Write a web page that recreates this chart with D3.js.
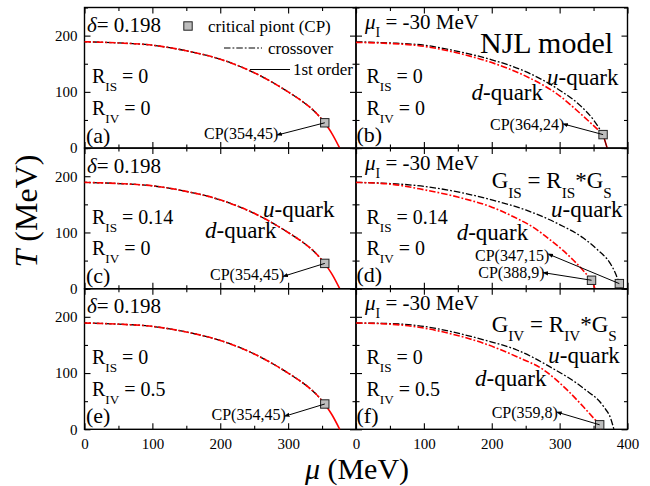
<!DOCTYPE html>
<html>
<head>
<meta charset="utf-8">
<script src="https://cdn.jsdelivr.net/npm/d3@7"></script>
<style>
  html, body { margin: 0; padding: 0; background: #fff; }
  svg { display: block; font-family: "Liberation Serif", "Times New Roman", serif; }
  text { white-space: pre; fill: #000; }
</style>
</head>
<body>
<svg id="chart" width="650" height="486"></svg>
<script>
// ---- axis ticks ----
const muMajor = [0, 100, 200, 300, 400];
const muMinor = [50, 150, 250, 350];
const tMajor = [0, 100, 200];
const tMinor = [50, 150, 250];
const muLabelsLeft = [0, 100, 200, 300];
const muLabelsRight = [0, 100, 200, 300, 400];

// ---- phase boundaries (mu, T in MeV) ----
// symmetric case, u and d lines coincide (panels a, c, e)
const symCrossMu = [0, 50, 100, 150, 200, 250, 300, 320, 340, 354];
const symCrossT  = [189, 187, 183, 173, 158, 134, 100, 84, 64, 45];
const symFirstMu = [354, 365, 376];
const symFirstT  = [45, 25, 0];

// panel b
const bDCrossMu = [0, 50, 100, 150, 200, 250, 300, 330, 350, 364];
const bDCrossT  = [188, 186, 181, 169, 152, 128, 93, 62, 40, 24];
const bUCrossMu = [0, 50, 100, 150, 200, 250, 300, 330, 350, 364];
const bUCrossT  = [189, 187, 183, 172, 157, 136, 103, 76, 50, 24];
const bFirstMu  = [364, 367, 370];
const bFirstT   = [24, 12, 0];

// panel d
const dDCrossMu = [0, 50, 100, 150, 200, 237, 260, 286, 305, 320, 335, 347];
const dDCrossT  = [189, 186, 176, 163, 145, 125, 110, 87, 68, 51, 32, 15];
const dDFirstMu = [347, 350, 352];
const dDFirstT  = [15, 7, 0];
const dUCrossMu = [0, 50, 100, 150, 200, 250, 300, 335, 355, 375, 382, 388];
const dUCrossT  = [189, 187, 182, 172, 158, 140, 114, 90, 70, 44, 28, 9];
const dUFirstMu = [388, 390];
const dUFirstT  = [9, 0];

// panel f
const fDCrossMu = [0, 50, 100, 139, 188, 237, 276, 311, 335, 350, 359];
const fDCrossT  = [189, 187, 180, 170, 153, 129, 106, 70, 40, 20, 8];
const fDFirstMu = [359, 361];
const fDFirstT  = [8, 0];
const fUCrossMu = [0, 50, 100, 139, 188, 237, 286, 335, 365, 375, 380];
const fUCrossT  = [189, 188, 183, 174, 159, 141, 111, 73, 40, 20, 0];

// critical points [mu, T]
const cpA = [354, 45];
const cpB = [364, 24];
const cpC = [354, 45];
const cpDd = [347, 15];
const cpDu = [388, 9];
const cpE = [354, 45];
const cpF = [359, 8];

// ---- layout ----
const svg = d3.select("#chart");
const padL = 84.5, padT = 7.5, pw = 271.5, ph = 140.6;
const x = d3.scaleLinear().domain([0, 400]).range([0, pw]);
const y = d3.scaleLinear().domain([0, 250]).range([ph, 0]);
const zip = (a, b) => a.map((v, i) => [v, b[i]]);
const line = d3.line().x(d => x(d[0])).y(d => y(d[1])).curve(d3.curveMonotoneX);
const lineFirst = d3.line().x(d => x(d[0])).y(d => y(d[1])).curve(d3.curveCatmullRom);
const DASH = "6.5,2,1.8,2";

const defs = svg.append("defs");
defs.append("marker").attr("id", "ah").attr("viewBox", "0 0 10 10")
  .attr("refX", 1).attr("refY", 5).attr("markerWidth", 6).attr("markerHeight", 6)
  .attr("orient", "auto-start-reverse").attr("markerUnits", "userSpaceOnUse")
  .append("path").attr("d", "M0,1.5 L10,5 L0,8.5 Z").attr("fill", "#000");

function rich(g, px, py, size, parts, sub) {
  const t = g.append("text").attr("x", px).attr("y", py).attr("font-size", size);
  let shift = 0;
  parts.forEach(p => {
    const s = t.append("tspan").text(p.t);
    const target = p.sub ? sub : 0;
    if (target - shift !== 0) s.attr("dy", target - shift);
    shift = target;
    if (p.sub) s.attr("font-size", size * 0.66);
    if (p.it) s.attr("font-style", "italic");
  });
  return t;
}

function panel(col, row) {
  return svg.append("g").attr("transform", `translate(${padL + col * pw},${padT + row * ph})`);
}

function frame(g) {
  const tk = (axis, size, vals) => axis.tickValues(vals).tickSizeInner(size).tickSizeOuter(0).tickFormat("");
  const add = (axis, tr) => {
    const a = g.append("g").attr("transform", tr).call(axis);
    a.select(".domain").remove();
    a.selectAll("line").attr("stroke", "#000").attr("stroke-width", 1.1);
  };
  [[muMajor, -6], [muMinor, -3.5]].forEach(([v, s]) => {
    add(tk(d3.axisBottom(x), s, v), `translate(0,${ph})`);
    add(tk(d3.axisTop(x), s, v), `translate(0,0)`);
  });
  [[tMajor, -6], [tMinor, -3.5]].forEach(([v, s]) => {
    add(tk(d3.axisLeft(y), s, v), `translate(0,0)`);
    add(tk(d3.axisRight(y), s, v), `translate(${pw},0)`);
  });
  g.append("rect").attr("width", pw).attr("height", ph)
    .attr("fill", "none").attr("stroke", "#000").attr("stroke-width", 1.4);
}

function curve(g, mus, ts, color, dashed, offset) {
  const p = g.append("path").datum(zip(mus, ts))
    .attr("d", dashed ? line : lineFirst)
    .attr("fill", "none").attr("stroke", color)
    .attr("stroke-width", color === "#000" ? 1.3 : 1.6);
  if (dashed) p.attr("stroke-dasharray", DASH).attr("stroke-dashoffset", offset || 0);
  return p;
}

function square(g, cx, cy) {
  g.append("rect").attr("x", cx - 4.2).attr("y", cy - 4.2).attr("width", 8.4).attr("height", 8.4)
    .attr("fill", "#bdbdbd").attr("stroke", "#222").attr("stroke-width", 1);
}

function cpLabel(g, px, py, cp, target) {
  const t = g.append("text").attr("x", px).attr("y", py).attr("font-size", 16)
    .text(`CP(${cp[0]},${cp[1]})`);
  const w = t.node().getComputedTextLength();
  const tgt = target || cp;
  g.append("line").attr("x1", px + w + 3).attr("y1", py - 5)
    .attr("x2", x(tgt[0])).attr("y2", y(tgt[1]))
    .attr("stroke", "#000").attr("stroke-width", 1)
    .attr("marker-start", "url(#ah)");
}

const quarkText = (g, px, py, q) =>
  rich(g, px, py, 23, [{ t: q, it: true }, { t: "-quark" }], 0);
const deltaText = (g, py) =>
  rich(g, 2.5, py, 21, [{ t: "δ", it: true }, { t: "= 0.198" }], 0);
const muIText = (g, py) =>
  rich(g, 9, py, 21, [{ t: "μ", it: true }, { t: "I", sub: true }, { t: " = -30 MeV" }], 8);
const rText = (g, px, rIS, rIV) => {
  rich(g, px, 75.5, 20, [{ t: "R" }, { t: "IS", sub: true }, { t: " = " + rIS }], 8);
  rich(g, px, 107, 20, [{ t: "R" }, { t: "IV", sub: true }, { t: " = " + rIV }], 8);
};
const tagText = (g, px, py, s) => g.append("text").attr("x", px).attr("y", py).attr("font-size", 22).text(s);

// ---- (a) ----
{
  const g = panel(0, 0);
  frame(g);
  curve(g, symCrossMu, symCrossT, "#000", true, 4);
  curve(g, symCrossMu, symCrossT, "#f00", true, 0);
  curve(g, symFirstMu, symFirstT, "#f00", false);
  square(g, x(cpA[0]), y(cpA[1]));
  deltaText(g, 24.5);
  rText(g, 7.5, "0", "0");
  tagText(g, 1.5, 135.5, "(a)");
  cpLabel(g, 119.5, 131.5, cpA);
  // legend
  square(g, 103.5, 18.5);
  g.append("text").attr("x", 123.5).attr("y", 24.5).attr("font-size", 17).text("critical piont (CP)");
  g.append("line").attr("x1", 139.5).attr("x2", 177.5).attr("y1", 40.5).attr("y2", 40.5)
    .attr("stroke", "#000").attr("stroke-width", 1.2).attr("stroke-dasharray", DASH);
  g.append("text").attr("x", 183.5).attr("y", 46).attr("font-size", 17).text("crossover");
  g.append("line").attr("x1", 165.5).attr("x2", 205.5).attr("y1", 62).attr("y2", 62)
    .attr("stroke", "#000").attr("stroke-width", 1.2);
  g.append("text").attr("x", 208.5).attr("y", 67.5).attr("font-size", 17).text("1st order");
}

// ---- (c) ----
{
  const g = panel(0, 1);
  frame(g);
  curve(g, symCrossMu, symCrossT, "#000", true, 4);
  curve(g, symCrossMu, symCrossT, "#f00", true, 0);
  curve(g, symFirstMu, symFirstT, "#f00", false);
  square(g, x(cpC[0]), y(cpC[1]));
  deltaText(g, 25);
  rText(g, 7.5, "0.14", "0");
  tagText(g, 1.5, 135, "(c)");
  quarkText(g, 178.5, 68.6, "u");
  quarkText(g, 120.5, 90.2, "d");
  cpLabel(g, 125.5, 132, cpC);
}

// ---- (e) ----
{
  const g = panel(0, 2);
  frame(g);
  curve(g, symCrossMu, symCrossT, "#000", true, 4);
  curve(g, symCrossMu, symCrossT, "#f00", true, 0);
  curve(g, symFirstMu, symFirstT, "#f00", false);
  square(g, x(cpE[0]), y(cpE[1]));
  deltaText(g, 24.6);
  rText(g, 7.5, "0", "0.5");
  tagText(g, 1.5, 134.6, "(e)");
  cpLabel(g, 127, 131.3, cpE);
}

// ---- (b) ----
{
  const g = panel(1, 0);
  frame(g);
  curve(g, bUCrossMu, bUCrossT, "#000", true, 0);
  curve(g, bDCrossMu, bDCrossT, "#f00", true, 0);
  curve(g, bFirstMu, bFirstT, "#f00", false);
  curve(g, bFirstMu, bFirstT, "#000", false).attr("stroke-width", 0.8);
  square(g, x(cpB[0]), y(cpB[1]));
  muIText(g, 21);
  g.append("text").attr("x", 124).attr("y", 45.5).attr("font-size", 30).text("NJL model");
  rText(g, 10.5, "0", "0");
  tagText(g, 0.5, 134.5, "(b)");
  quarkText(g, 191, 77.5, "u");
  quarkText(g, 115.5, 92.5, "d");
  cpLabel(g, 134, 122.5, cpB);
}

// ---- (d) ----
{
  const g = panel(1, 1);
  frame(g);
  curve(g, dUCrossMu, dUCrossT, "#000", true, 0);
  curve(g, dUFirstMu, dUFirstT, "#000", false);
  curve(g, dDCrossMu, dDCrossT, "#f00", true, 0);
  curve(g, dDFirstMu, dDFirstT, "#f00", false);
  square(g, x(cpDd[0]), y(cpDd[1]));
  square(g, x(cpDu[0]), y(cpDu[1]));
  muIText(g, 21.5);
  rich(g, 135.7, 40.2, 23, [{ t: "G" }, { t: "IS", sub: true }, { t: " = R" }, { t: "IS", sub: true }, { t: "*G" }, { t: "S", sub: true }], 9.5);
  rText(g, 10.5, "0.14", "0");
  tagText(g, 0.5, 134, "(d)");
  quarkText(g, 195, 69, "u");
  quarkText(g, 100.7, 92, "d");
  cpLabel(g, 119, 112.6, cpDd, cpDu);
  cpLabel(g, 122.3, 130.2, cpDu, cpDd);
}

// ---- (f) ----
{
  const g = panel(1, 2);
  frame(g);
  curve(g, fUCrossMu, fUCrossT, "#000", true, 0);
  curve(g, fDCrossMu, fDCrossT, "#f00", true, 0);
  curve(g, fDFirstMu, fDFirstT, "#f00", false);
  square(g, x(cpF[0]), y(cpF[1]));
  muIText(g, 21.5);
  rich(g, 135.7, 43, 23, [{ t: "G" }, { t: "IV", sub: true }, { t: " = R" }, { t: "IV", sub: true }, { t: "*G" }, { t: "S", sub: true }], 9.5);
  rText(g, 10.5, "0", "0.5");
  tagText(g, 0.5, 134.5, "(f)");
  quarkText(g, 192.3, 74.6, "u");
  quarkText(g, 119, 97.3, "d");
  cpLabel(g, 135.7, 129.6, cpF);
}

// ---- tick labels ----
function labelAxis(sel) {
  sel.select(".domain").remove();
  sel.selectAll("text").attr("font-size", 15).attr("font-family", "'Liberation Serif', serif").attr("fill", "#000");
}
[0, 1, 2].forEach(r => {
  svg.append("g").attr("transform", `translate(${padL},${padT + r * ph})`)
    .call(d3.axisLeft(y).tickValues(tMajor).tickSize(0).tickPadding(7)).call(labelAxis);
});
svg.append("g").attr("transform", `translate(${padL},${padT + 3 * ph})`)
  .call(d3.axisBottom(x).tickValues(muLabelsLeft).tickSize(0).tickPadding(9.5)).call(labelAxis);
svg.append("g").attr("transform", `translate(${padL + pw},${padT + 3 * ph})`)
  .call(d3.axisBottom(x).tickValues(muLabelsRight).tickSize(0).tickPadding(9.5)).call(labelAxis);

// ---- axis titles ----
const ty = svg.append("text").attr("transform", "translate(37,211) rotate(-90)")
  .attr("text-anchor", "middle").attr("font-size", 32);
ty.append("tspan").attr("font-style", "italic").text("T");
ty.append("tspan").text(" (MeV)");
const tx = svg.append("text").attr("x", 357).attr("y", 479)
  .attr("text-anchor", "middle").attr("font-size", 30);
tx.append("tspan").attr("font-style", "italic").text("μ");
tx.append("tspan").text(" (MeV)");
</script>
</body>
</html>
